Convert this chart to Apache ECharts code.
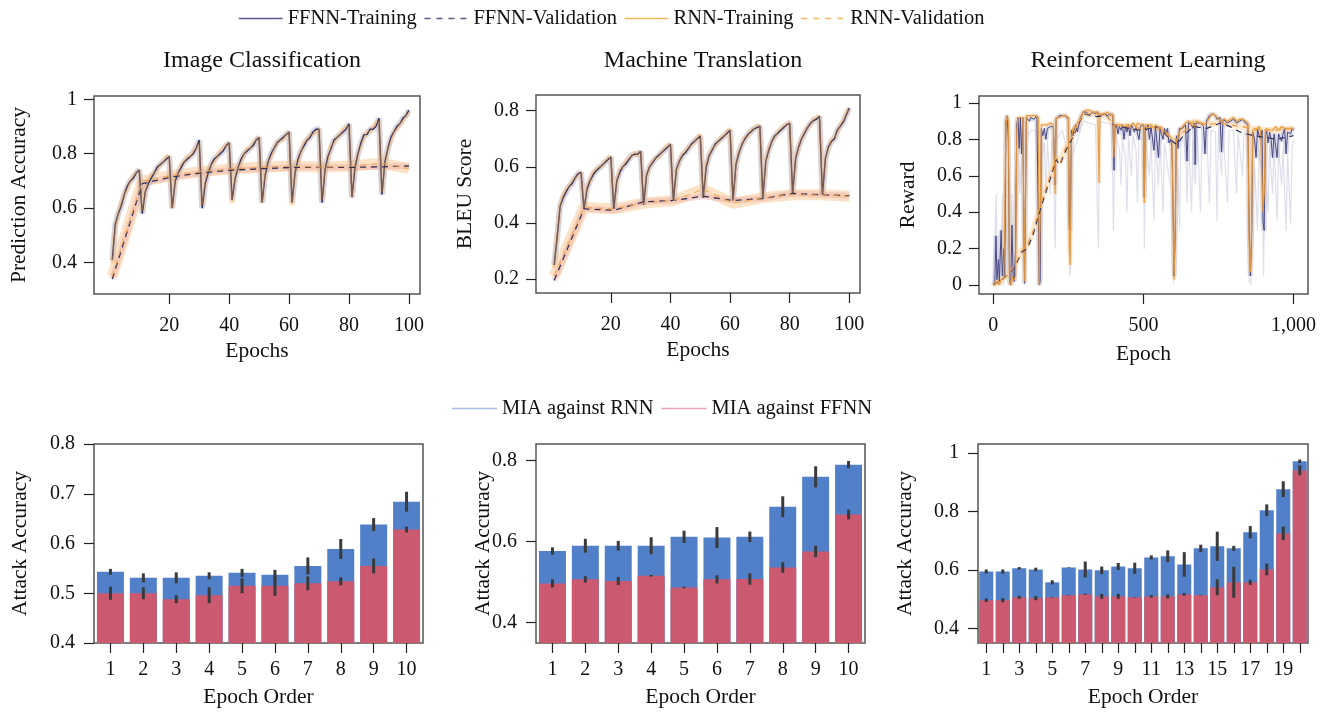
<!DOCTYPE html>
<html>
<head>
<meta charset="utf-8">
<script src="https://cdn.jsdelivr.net/npm/echarts@6/dist/echarts.min.js"></script>
<style>
html, body { margin: 0; padding: 0; background: #fff; }
#chart { width: 1340px; height: 715px; }
</style>
</head>
<body>
<div id="chart"></div>
<script>
// ---- top row: training / validation curves ----
const epochs = Array.from({length: 100}, (_, i) => i + 1);
const valEpochs = [1, 11, 21, 31, 41, 51, 61, 71, 81, 91, 100];

const icFfnnTrain = [
	0.41, 0.54, 0.58, 0.61, 0.65, 0.68, 0.70, 0.71, 0.73, 0.74,
	0.58, 0.66, 0.69, 0.71, 0.73, 0.75, 0.76, 0.77, 0.78, 0.79,
	0.60, 0.70, 0.73, 0.75, 0.77, 0.78, 0.79, 0.80, 0.82, 0.85,
	0.60, 0.69, 0.73, 0.76, 0.78, 0.79, 0.80, 0.81, 0.83, 0.84,
	0.63, 0.71, 0.75, 0.78, 0.80, 0.81, 0.82, 0.83, 0.85, 0.86,
	0.62, 0.72, 0.77, 0.80, 0.82, 0.84, 0.85, 0.86, 0.87, 0.88,
	0.62, 0.73, 0.78, 0.81, 0.83, 0.85, 0.86, 0.88, 0.89, 0.89,
	0.62, 0.74, 0.79, 0.82, 0.85, 0.86, 0.87, 0.88, 0.89, 0.91,
	0.64, 0.75, 0.80, 0.84, 0.87, 0.87, 0.89, 0.89, 0.90, 0.93,
	0.65, 0.77, 0.82, 0.86, 0.88, 0.90, 0.91, 0.93, 0.94, 0.96
];
const icRnnTrain = [
	0.40, 0.53, 0.58, 0.62, 0.65, 0.67, 0.70, 0.72, 0.73, 0.74,
	0.59, 0.66, 0.70, 0.72, 0.73, 0.74, 0.76, 0.77, 0.79, 0.79,
	0.60, 0.71, 0.73, 0.76, 0.77, 0.79, 0.79, 0.81, 0.82, 0.84,
	0.61, 0.70, 0.74, 0.76, 0.77, 0.79, 0.81, 0.82, 0.83, 0.84,
	0.62, 0.72, 0.75, 0.77, 0.80, 0.82, 0.82, 0.84, 0.85, 0.86,
	0.62, 0.73, 0.77, 0.79, 0.82, 0.84, 0.85, 0.85, 0.87, 0.88,
	0.61, 0.73, 0.77, 0.81, 0.84, 0.85, 0.87, 0.87, 0.88, 0.89,
	0.63, 0.74, 0.78, 0.83, 0.84, 0.86, 0.87, 0.89, 0.90, 0.90,
	0.64, 0.76, 0.80, 0.83, 0.86, 0.88, 0.88, 0.90, 0.91, 0.92,
	0.66, 0.76, 0.82, 0.85, 0.88, 0.89, 0.91, 0.92, 0.94, 0.95
];
const icFfnnVal = [0.34, 0.69, 0.715, 0.73, 0.74, 0.745, 0.75, 0.75, 0.75, 0.752, 0.755];
const icRnnVal = [0.35, 0.70, 0.72, 0.735, 0.745, 0.75, 0.755, 0.75, 0.755, 0.765, 0.745];

const mtFfnnTrain = [
	0.25, 0.35, 0.46, 0.49, 0.51, 0.53, 0.54, 0.56, 0.575, 0.58,
	0.45, 0.52, 0.55, 0.57, 0.585, 0.595, 0.605, 0.615, 0.625, 0.635,
	0.45, 0.55, 0.58, 0.60, 0.61, 0.625, 0.64, 0.645, 0.645, 0.655,
	0.465, 0.57, 0.60, 0.615, 0.63, 0.64, 0.65, 0.66, 0.67, 0.68,
	0.48, 0.59, 0.62, 0.64, 0.65, 0.665, 0.68, 0.69, 0.70, 0.71,
	0.49, 0.60, 0.64, 0.66, 0.68, 0.69, 0.70, 0.71, 0.72, 0.73,
	0.48, 0.61, 0.65, 0.68, 0.70, 0.715, 0.725, 0.735, 0.74, 0.745,
	0.49, 0.62, 0.66, 0.69, 0.71, 0.72, 0.73, 0.74, 0.75, 0.755,
	0.505, 0.63, 0.67, 0.70, 0.72, 0.74, 0.755, 0.765, 0.77, 0.78,
	0.50, 0.63, 0.67, 0.69, 0.70, 0.73, 0.745, 0.76, 0.785, 0.81
];
const mtRnnTrain = [
	0.24, 0.36, 0.46, 0.50, 0.52, 0.53, 0.55, 0.56, 0.57, 0.58,
	0.45, 0.53, 0.55, 0.58, 0.59, 0.60, 0.60, 0.62, 0.63, 0.635,
	0.455, 0.55, 0.59, 0.60, 0.62, 0.63, 0.64, 0.65, 0.64, 0.655,
	0.47, 0.57, 0.60, 0.62, 0.63, 0.635, 0.65, 0.665, 0.675, 0.68,
	0.48, 0.59, 0.62, 0.645, 0.655, 0.67, 0.675, 0.69, 0.705, 0.715,
	0.49, 0.61, 0.64, 0.665, 0.675, 0.69, 0.705, 0.71, 0.725, 0.735,
	0.475, 0.61, 0.655, 0.68, 0.705, 0.71, 0.73, 0.735, 0.745, 0.745,
	0.49, 0.62, 0.665, 0.69, 0.705, 0.725, 0.735, 0.745, 0.75, 0.76,
	0.50, 0.635, 0.67, 0.70, 0.725, 0.74, 0.75, 0.77, 0.775, 0.78,
	0.505, 0.63, 0.665, 0.695, 0.705, 0.725, 0.75, 0.765, 0.79, 0.805
];
const mtFfnnVal = [0.195, 0.45, 0.445, 0.475, 0.48, 0.495, 0.48, 0.487, 0.505, 0.50, 0.497];
const mtRnnVal = [0.21, 0.455, 0.45, 0.47, 0.48, 0.52, 0.47, 0.49, 0.50, 0.50, 0.495];

// reinforcement learning, sampled where the curves change
const rlEpochs = [
	0, 5, 9, 12, 17, 20, 26, 30, 35, 38,
	42, 46, 50, 54, 58, 62, 66, 70, 74, 78,
	82, 86, 90, 94, 98, 101, 104, 107, 110, 115,
	120, 125, 130, 135, 140, 145, 150, 153, 156, 160,
	165, 170, 175, 180, 185, 190, 195, 200, 204, 206,
	209, 215, 220, 225, 230, 235, 240, 245, 250, 253,
	256, 260, 265, 270, 275, 280, 290, 300, 310, 320,
	330, 340, 348, 352, 355, 360, 370, 380, 390, 398,
	402, 405, 410, 415, 420, 425, 430, 435, 440, 445,
	450, 455, 460, 465, 470, 475, 480, 485, 490, 495,
	500, 503, 506, 510, 515, 520, 525, 530, 535, 540,
	545, 550, 555, 560, 565, 570, 575, 580, 585, 590,
	595, 598, 602, 606, 609, 612, 615, 620, 625, 630,
	640, 645, 650, 660, 665, 670, 672, 675, 680, 690,
	700, 705, 710, 720, 730, 740, 745, 750, 755, 760,
	765, 770, 780, 790, 800, 810, 820, 830, 840, 848,
	852, 856, 860, 864, 870, 875, 880, 885, 890, 895,
	898, 902, 906, 910, 915, 920, 925, 930, 935, 940,
	945, 950, 955, 960, 965, 970, 975, 980, 985, 990,
	995, 1000
];
const rlFfnnTrain = [
	0.0, 0.02, 0.27, 0.03, 0.14, 0.02, 0.30, 0.05, 0.20, 0.04,
	0.90, 0.93, 0.80, 0.02, 0.0, 0.33, 0.05, 0.02, 0.20, 0.88,
	0.92, 0.75, 0.92, 0.72, 0.92, 0.92, 0.01, 0.02, 0.92, 0.93,
	0.90, 0.92, 0.93, 0.91, 0.92, 0.93, 0.92, 0.0, 0.02, 0.86,
	0.82, 0.86, 0.80, 0.86, 0.85, 0.87, 0.86, 0.87, 0.86, 0.55,
	0.91, 0.92, 0.93, 0.92, 0.93, 0.92, 0.93, 0.92, 0.91, 0.35,
	0.30, 0.85, 0.82, 0.86, 0.88, 0.84, 0.92, 0.95, 0.95, 0.93,
	0.95, 0.94, 0.95, 0.93, 0.94, 0.93, 0.94, 0.93, 0.94, 0.93,
	0.63, 0.86, 0.88, 0.83, 0.87, 0.85, 0.88, 0.80, 0.87, 0.84,
	0.88, 0.82, 0.88, 0.86, 0.84, 0.87, 0.88, 0.80, 0.87, 0.86,
	0.88, 0.48, 0.87, 0.85, 0.88, 0.80, 0.87, 0.86, 0.74, 0.87,
	0.86, 0.70, 0.86, 0.85, 0.80, 0.86, 0.83, 0.86, 0.78, 0.80,
	0.76, 0.50, 0.05, 0.30, 0.80, 0.82, 0.75, 0.86, 0.87, 0.86,
	0.88, 0.68, 0.89, 0.88, 0.86, 0.89, 0.66, 0.89, 0.90, 0.89,
	0.87, 0.72, 0.90, 0.93, 0.94, 0.93, 0.91, 0.90, 0.92, 0.73,
	0.91, 0.92, 0.89, 0.90, 0.91, 0.89, 0.90, 0.91, 0.89, 0.88,
	0.30, 0.05, 0.25, 0.84, 0.80, 0.70, 0.86, 0.82, 0.80, 0.85,
	0.35, 0.30, 0.82, 0.85, 0.78, 0.84, 0.80, 0.70, 0.83, 0.82,
	0.70, 0.83, 0.84, 0.79, 0.83, 0.86, 0.72, 0.84, 0.85, 0.83,
	0.86, 0.85
];
const rlRnnTrain = [
	0.0, 0.0, 0.02, 0.01, 0.02, 0.0, 0.03, 0.02, 0.04, 0.03,
	0.88, 0.93, 0.90, 0.03, 0.0, 0.05, 0.02, 0.01, 0.05, 0.85,
	0.92, 0.93, 0.92, 0.93, 0.92, 0.93, 0.02, 0.01, 0.93, 0.94,
	0.93, 0.92, 0.93, 0.92, 0.93, 0.93, 0.92, 0.0, 0.01, 0.88,
	0.89, 0.88, 0.89, 0.88, 0.88, 0.89, 0.88, 0.88, 0.89, 0.50,
	0.92, 0.93, 0.92, 0.93, 0.93, 0.92, 0.93, 0.93, 0.92, 0.20,
	0.11, 0.80, 0.86, 0.85, 0.87, 0.89, 0.91, 0.95, 0.96, 0.96,
	0.95, 0.95, 0.95, 0.56, 0.94, 0.95, 0.94, 0.95, 0.93, 0.94,
	0.70, 0.88, 0.89, 0.88, 0.89, 0.88, 0.89, 0.87, 0.88, 0.88,
	0.89, 0.87, 0.88, 0.89, 0.88, 0.87, 0.89, 0.88, 0.88, 0.89,
	0.88, 0.45, 0.88, 0.89, 0.88, 0.87, 0.88, 0.89, 0.86, 0.88,
	0.87, 0.85, 0.86, 0.87, 0.84, 0.85, 0.84, 0.85, 0.82, 0.81,
	0.80, 0.45, 0.03, 0.35, 0.78, 0.80, 0.80, 0.84, 0.86, 0.87,
	0.89, 0.88, 0.90, 0.89, 0.90, 0.88, 0.86, 0.90, 0.90, 0.89,
	0.88, 0.87, 0.89, 0.92, 0.94, 0.93, 0.92, 0.91, 0.92, 0.90,
	0.91, 0.91, 0.90, 0.91, 0.92, 0.90, 0.91, 0.91, 0.90, 0.89,
	0.25, 0.07, 0.30, 0.85, 0.86, 0.85, 0.86, 0.87, 0.85, 0.86,
	0.40, 0.50, 0.84, 0.86, 0.86, 0.85, 0.86, 0.85, 0.86, 0.87,
	0.86, 0.85, 0.86, 0.87, 0.86, 0.86, 0.85, 0.86, 0.87, 0.86,
	0.87, 0.86
];
// lower edge of the spread across runs (the pale spikes)
const rlLowEpochs = [
	0, 10, 13, 20, 24, 30, 33, 40, 55, 62, 66, 72, 78, 84, 88, 94, 100, 104, 110, 125,
	140, 150, 153, 160, 170, 175, 180, 190, 195, 200, 206, 210, 230, 250, 254, 258, 262, 280, 300, 340,
	350, 355, 395, 400, 405, 420, 425, 430, 440, 445, 450, 460, 465, 475, 480, 485, 500, 503, 506, 520,
	525, 535, 540, 550, 555, 565, 570, 585, 595, 600, 608, 615, 620, 625, 640, 645, 650, 660, 665, 672,
	680, 690, 695, 710, 720, 725, 740, 745, 750, 760, 765, 780, 785, 800, 810, 815, 830, 835, 848, 852,
	858, 864, 870, 880, 885, 895, 900, 905, 915, 920, 930, 935, 945, 950, 960, 965, 975, 980, 990, 995,
	1000
];
const rlLow = [
	0, 0.5, 0, 0.2, 0, 0.5, 0.0, 0.4, 0, 0.5, 0, 0.6, 0.4, 0.75, 0.5, 0.7, 0.2, 0, 0.8, 0.85,
	0.85, 0.6, 0, 0.7, 0.78, 0.5, 0.8, 0.5, 0.8, 0.7, 0.2, 0.8, 0.85, 0.7, 0.05, 0.1, 0.7, 0.8, 0.9, 0.88,
	0.2, 0.9, 0.88, 0.3, 0.82, 0.75, 0.55, 0.8, 0.7, 0.4, 0.82, 0.6, 0.82, 0.75, 0.45, 0.8, 0.8, 0.2, 0.8, 0.6,
	0.8, 0.35, 0.8, 0.55, 0.8, 0.4, 0.78, 0.6, 0.5, 0.01, 0.3, 0.65, 0.3, 0.8, 0.78, 0.45, 0.82, 0.4, 0.8, 0.55,
	0.82, 0.4, 0.82, 0.85, 0.45, 0.85, 0.84, 0.35, 0.85, 0.6, 0.85, 0.45, 0.85, 0.85, 0.5, 0.84, 0.6, 0.84, 0.8, 0.02,
	0.0, 0.5, 0.65, 0.3, 0.75, 0.6, 0.05, 0.7, 0.4, 0.75, 0.5, 0.78, 0.35, 0.75, 0.55, 0.75, 0.3, 0.72, 0.34, 0.75,
	0.8
];
const rlValEpochs = [0, 22, 44, 72, 94, 113, 133, 150, 167, 189, 209, 222, 239, 261, 278, 300, 344,
	378, 400, 450, 489, 550, 589, 611, 633, 667, 711, 756, 789, 822, 867, 911, 944, 1000];
const rlFfnnVal = [0, 0.02, 0.05, 0.10, 0.18, 0.20, 0.28, 0.38, 0.47, 0.58, 0.69, 0.66, 0.73, 0.80, 0.86, 0.94, 0.925,
	0.93, 0.88, 0.86, 0.85, 0.87, 0.80, 0.77, 0.82, 0.87, 0.86, 0.89, 0.87, 0.84, 0.82, 0.81, 0.80, 0.82];
const rlRnnVal = [0, 0.02, 0.05, 0.11, 0.19, 0.22, 0.30, 0.40, 0.49, 0.60, 0.70, 0.67, 0.75, 0.81, 0.87, 0.94, 0.94,
	0.93, 0.88, 0.87, 0.86, 0.87, 0.81, 0.80, 0.84, 0.90, 0.88, 0.89, 0.88, 0.87, 0.86, 0.85, 0.85, 0.86];

// ---- bottom row: membership inference attack accuracy ----
const order10 = ["1", "2", "3", "4", "5", "6", "7", "8", "9", "10"];
const order20 = ["1", "2", "3", "4", "5", "6", "7", "8", "9", "10",
	"11", "12", "13", "14", "15", "16", "17", "18", "19", "20"];

const icMiaRnn = [0.543, 0.531, 0.531, 0.535, 0.541, 0.537, 0.555, 0.589, 0.638, 0.684];
const icMiaRnnErr = [0.006, 0.009, 0.011, 0.007, 0.008, 0.01, 0.017, 0.02, 0.013, 0.02];
const icMiaFfnn = [0.500, 0.500, 0.488, 0.496, 0.515, 0.515, 0.520, 0.524, 0.555, 0.628];
const icMiaFfnnErr = [0.013, 0.012, 0.008, 0.016, 0.015, 0.02, 0.014, 0.008, 0.015, 0.006];

const mtMiaRnn = [0.577, 0.59, 0.59, 0.59, 0.612, 0.61, 0.612, 0.686, 0.76, 0.79];
const mtMiaRnnErr = [0.009, 0.017, 0.012, 0.021, 0.015, 0.026, 0.013, 0.026, 0.026, 0.009];
const mtMiaFfnn = [0.497, 0.507, 0.503, 0.516, 0.487, 0.507, 0.508, 0.536, 0.576, 0.667];
const mtMiaFfnnErr = [0.01, 0.008, 0.01, 0.002, 0.002, 0.01, 0.014, 0.013, 0.014, 0.012];

const rlMiaRnn = [0.595, 0.595, 0.606, 0.602, 0.558, 0.609, 0.602, 0.599, 0.612, 0.606,
	0.643, 0.647, 0.619, 0.674, 0.681, 0.674, 0.729, 0.804, 0.876, 0.971];
const rlMiaRnnErr = [0.007, 0.007, 0.004, 0.006, 0.007, 0.001, 0.027, 0.013, 0.012, 0.019,
	0.007, 0.02, 0.042, 0.0125, 0.05, 0.0085, 0.021, 0.02, 0.027, 0.006];
const rlMiaFfnn = [0.497, 0.497, 0.507, 0.504, 0.507, 0.514, 0.517, 0.51, 0.51, 0.507,
	0.51, 0.51, 0.517, 0.514, 0.541, 0.558, 0.558, 0.602, 0.725, 0.94];
const rlMiaFfnnErr = [0.006, 0.007, 0.005, 0.007, 0.001, 0.001, 0.002, 0.0085, 0.0085, 0.001,
	0.004, 0.007, 0.0045, 0.001, 0.027, 0.053, 0.009, 0.02, 0.023, 0.017];

const FONT = "\"Liberation Serif\", \"DejaVu Serif\", serif";
const NAVY = "#30305a";
const ORANGE = "#f0a044";
const BLUE = "#5180c8";
const RED = "#cb5a70";

const zip = (xs, ys) => xs.map((x, i) => [x, ys[i]]);
const errRows = (vals, errs) => vals.map((v, i) => [i, v - errs[i], v + errs[i]]);

const grids = [
	{left: 94, top: 96, width: 326, height: 198},
	{left: 536, top: 95, width: 324, height: 198},
	{left: 979, top: 96, width: 329, height: 198},
	{left: 94, top: 444, width: 329, height: 199},
	{left: 536, top: 444, width: 329, height: 199},
	{left: 978, top: 444, width: 330, height: 199}
].map(g => Object.assign({show: true, borderColor: "#555", borderWidth: 1.5, backgroundColor: "transparent"}, g));

const labelText = {fontFamily: FONT, fontSize: 20, color: "#111"};
const nameText = {fontFamily: FONT, fontSize: 21.5, color: "#111"};

function axisBase(gridIndex, name, nameGap, labelMargin) {
	return {
		gridIndex: gridIndex,
		name: name,
		nameLocation: "middle",
		nameGap: nameGap,
		nameMoveOverlap: false,
		nameTextStyle: nameText,
		axisLine: {show: false, onZero: false},
		axisTick: {show: true, length: 10, lineStyle: {color: "#222", width: 1.2}},
		axisLabel: Object.assign({margin: labelMargin}, labelText),
		splitLine: {show: false}
	};
}

function valueAxis(gridIndex, name, nameGap, labelMargin, min, max, ticks, fmt) {
	const ax = axisBase(gridIndex, name, nameGap, labelMargin);
	ax.type = "value";
	ax.min = min;
	ax.max = max;
	ax.axisTick.customValues = ticks;
	ax.axisLabel.customValues = ticks;
	if (fmt) ax.axisLabel.formatter = fmt;
	return ax;
}

function categoryAxis(gridIndex, name, cats, labelInterval) {
	const ax = axisBase(gridIndex, name, 43, 17);
	ax.type = "category";
	ax.data = cats;
	ax.axisTick.alignWithLabel = true;
	ax.axisTick.interval = 0;
	ax.axisLabel.interval = labelInterval;
	return ax;
}

const xAxes = [
	valueAxis(0, "Epochs", 46, 22, -5.1, 103.7, [20, 40, 60, 80, 100]),
	valueAxis(1, "Epochs", 46, 22, -5.1, 103.6, [20, 40, 60, 80, 100]),
	valueAxis(2, "Epoch", 49, 22, -47.7, 1048, [0, 500, 1000], v => v.toLocaleString("en-US")),
	categoryAxis(3, "Epoch Order", order10, 0),
	categoryAxis(4, "Epoch Order", order10, 0),
	categoryAxis(5, "Epoch Order", order20, 1)
];
const yAxes = [
	valueAxis(0, "Prediction Accuracy", 64, 17, 0.285, 1.012, [0.4, 0.6, 0.8, 1]),
	valueAxis(1, "BLEU Score", 60, 17, 0.15, 0.856, [0.2, 0.4, 0.6, 0.8]),
	valueAxis(2, "Reward", 60, 17, -0.049, 1.038, [0, 0.2, 0.4, 0.6, 0.8, 1]),
	valueAxis(3, "Attack Accuracy", 63, 19, 0.4, 0.8, [0.4, 0.5, 0.6, 0.7, 0.8]),
	valueAxis(4, "Attack Accuracy", 42, 19, 0.35, 0.841, [0.4, 0.6, 0.8]),
	valueAxis(5, "Attack Accuracy", 62, 19, 0.351, 1.03, [0.4, 0.6, 0.8, 1])
];

function line(name, idx, data, color, width, extra) {
	return Object.assign({
		name: name, type: "line", xAxisIndex: idx, yAxisIndex: idx,
		data: data, symbol: "none", silent: true,
		lineStyle: {color: color, width: width},
		itemStyle: {color: color}
	}, extra || {});
}

function curvePanel(idx, ffnnTrain, rnnTrain, ffnnVal, rnnVal) {
	const ft = zip(epochs, ffnnTrain), rt = zip(epochs, rnnTrain);
	const fv = zip(valEpochs, ffnnVal), rv = zip(valEpochs, rnnVal);
	return [
		line("band-rv", idx, rv, "#f9c890", 11, {z: 1, lineStyle: {color: "#f9c890", width: 11, opacity: 0.5}}),
		line("band-fv", idx, fv, "#e8a0a0", 6, {z: 1, lineStyle: {color: "#e89a9a", width: 6, opacity: 0.35}}),
		line("band-ft", idx, ft, "#a8a8c8", 6, {z: 1, lineStyle: {color: "#a8a8c8", width: 6, opacity: 0.45}}),
		line("band-rt", idx, rt, "#f5c590", 5, {z: 1, lineStyle: {color: "#f5c590", width: 5, opacity: 0.45}}),
		line("FFNN-Training", idx, ft, NAVY, 1.4, {z: 3}),
		line("RNN-Training", idx, rt, ORANGE, 1.2, {z: 4, lineStyle: {color: ORANGE, width: 1.2, opacity: 0.4}}),
		line("FFNN-Validation", idx, fv, NAVY, 1.3, {z: 5, lineStyle: {color: NAVY, width: 1.3, type: [6, 5]}}),
		line("RNN-Validation", idx, rv, ORANGE, 1.2, {z: 5, lineStyle: {color: ORANGE, width: 1.2, type: [6, 5], opacity: 0.8}})
	];
}

function rlPanel(idx) {
	const ft = zip(rlEpochs, rlFfnnTrain), rt = zip(rlEpochs, rlRnnTrain);
	const fv = zip(rlValEpochs, rlFfnnVal), rv = zip(rlValEpochs, rlRnnVal);
	return [
		line("band-low", idx, zip(rlLowEpochs, rlLow), "#c8c8de", 1, {z: 1, lineStyle: {color: "#c4c4dc", width: 1.2, opacity: 0.55}}),
		line("band-ft", idx, ft, "#b8b8d6", 5, {z: 1, lineStyle: {color: "#b8b8d6", width: 5, opacity: 0.5}}),
		line("band-rt", idx, rt, "#f8d0a0", 4, {z: 1, lineStyle: {color: "#f8d0a0", width: 4, opacity: 0.5}}),
		line("band-rv", idx, rv, "#fbd5a8", 6, {z: 1, lineStyle: {color: "#fbd5a8", width: 6, opacity: 0.5}}),
		line("FFNN-Training", idx, ft, "#4a4a84", 1, {z: 3}),
		line("RNN-Training", idx, rt, "#e59838", 1.2, {z: 4, lineStyle: {color: "#e59838", width: 1.2, opacity: 0.9}}),
		line("FFNN-Validation", idx, fv, NAVY, 1.2, {z: 5, lineStyle: {color: NAVY, width: 1.2, type: [6, 5]}}),
		line("RNN-Validation", idx, rv, ORANGE, 1.2, {z: 5, lineStyle: {color: ORANGE, width: 1.2, type: [6, 5]}})
	];
}

function errRender(params, api) {
	const a = api.coord([api.value(0), api.value(1)]);
	const b = api.coord([api.value(0), api.value(2)]);
	return {
		type: "line",
		shape: {x1: a[0], y1: a[1], x2: b[0], y2: b[1]},
		style: {stroke: "#3a3a3a", lineWidth: 3}
	};
}

function barPanel(idx, rnn, rnnErr, ffnn, ffnnErr, width) {
	return [
		{name: "MIA against RNN", type: "bar", xAxisIndex: idx, yAxisIndex: idx, data: rnn,
			barWidth: width, barGap: "-100%", itemStyle: {color: BLUE}, z: 2, silent: true},
		{name: "MIA against FFNN", type: "bar", xAxisIndex: idx, yAxisIndex: idx, data: ffnn,
			barWidth: width, barGap: "-100%", itemStyle: {color: RED}, z: 3, silent: true},
		{name: "err-rnn", type: "custom", xAxisIndex: idx, yAxisIndex: idx, data: errRows(rnn, rnnErr),
			renderItem: errRender, encode: {x: 0, y: [1, 2]}, z: 5, silent: true},
		{name: "err-ffnn", type: "custom", xAxisIndex: idx, yAxisIndex: idx, data: errRows(ffnn, ffnnErr),
			renderItem: errRender, encode: {x: 0, y: [1, 2]}, z: 5, silent: true}
	];
}

const titleStyle = {fontFamily: FONT, fontSize: 24, fontWeight: "normal", color: "#111"};
const hideMark = {opacity: 0};

const option = {
	animation: false,
	backgroundColor: "#fff",
	title: [
		{text: "Image Classification", left: 257, top: 44, textAlign: "center", textStyle: titleStyle},
		{text: "Machine Translation", left: 698, top: 44, textAlign: "center", textStyle: titleStyle},
		{text: "Reinforcement Learning", left: 1143, top: 44, textAlign: "center", textStyle: titleStyle}
	],
	legend: [
		{
			top: 3, left: 233, itemWidth: 44, itemHeight: 10, itemGap: 7,
			textStyle: {fontFamily: FONT, fontSize: 20.5, color: "#111"},
			data: [
				{name: "FFNN-Training", itemStyle: hideMark, lineStyle: {color: "#5a5a8a", width: 1.3, opacity: 1}},
				{name: "FFNN-Validation", itemStyle: hideMark, lineStyle: {color: "#5a5a8a", width: 1.3, type: [6, 6], opacity: 1}},
				{name: "RNN-Training", itemStyle: hideMark, lineStyle: {color: "#f5b860", width: 1.3, opacity: 1}},
				{name: "RNN-Validation", itemStyle: hideMark, lineStyle: {color: "#f5b860", width: 1.3, type: [6, 6], opacity: 1}}
			]
		},
		{
			top: 393, left: 447, itemWidth: 45, itemHeight: 1.5, itemGap: 8, icon: "rect",
			textStyle: {fontFamily: FONT, fontSize: 20.5, color: "#111"},
			data: [
				{name: "MIA against RNN", itemStyle: {color: "#a8bfe8"}},
				{name: "MIA against FFNN", itemStyle: {color: "#e8a4b4"}}
			]
		}
	],
	grid: grids,
	xAxis: xAxes,
	yAxis: yAxes,
	series: [].concat(
		curvePanel(0, icFfnnTrain, icRnnTrain, icFfnnVal, icRnnVal),
		curvePanel(1, mtFfnnTrain, mtRnnTrain, mtFfnnVal, mtRnnVal),
		rlPanel(2),
		barPanel(3, icMiaRnn, icMiaRnnErr, icMiaFfnn, icMiaFfnnErr, "82%"),
		barPanel(4, mtMiaRnn, mtMiaRnnErr, mtMiaFfnn, mtMiaFfnnErr, "82%"),
		barPanel(5, rlMiaRnn, rlMiaRnnErr, rlMiaFfnn, rlMiaFfnnErr, "85%")
	)
};

const myChart = echarts.init(document.getElementById("chart"));
myChart.setOption(option);
</script>
</body>
</html>
